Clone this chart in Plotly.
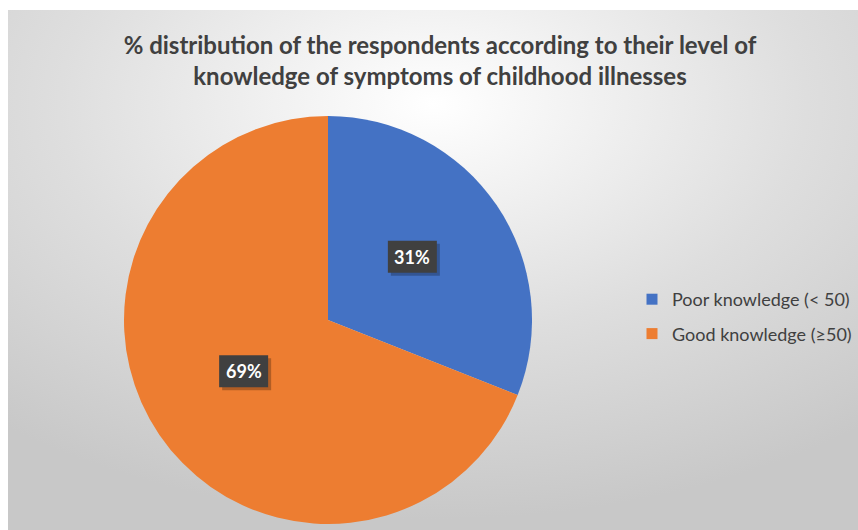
import base64
import math
import plotly.graph_objects as go

# Survey result: share of respondents by knowledge level
categories = ["Poor knowledge (< 50)", "Good knowledge (≥50)"]
percentages = [31, 69]
slice_colors = ["#4472C4", "#ED7D31"]
title_lines = [
    "% distribution of the respondents according to their level of",
    "knowledge of symptoms of childhood illnesses",
]

W, H = 858, 530
FONT = "Lato"

# pie geometry in pixels (margins are zero, so paper == page)
cx_px, cy_px, r_px = 328, 320, 204
dom_x = [(cx_px - r_px) / W, (cx_px + r_px) / W]
dom_y = [1 - (cy_px + r_px) / H, 1 - (cy_px - r_px) / H]

# soft radial background panel
svg = f"""<svg xmlns='http://www.w3.org/2000/svg' width='850' height='520' preserveAspectRatio='none' viewBox='0 0 850 520'>
<defs><radialGradient id='g' cx='0.5' cy='0.18' r='0.8' fx='0.5' fy='0.18'>
<stop offset='0' stop-color='#ffffff'/><stop offset='0.55' stop-color='#dedede'/><stop offset='1' stop-color='#c8c8c8'/>
</radialGradient></defs>
<rect x='0' y='0' width='850' height='520' fill='url(#g)'/></svg>"""
bg_uri = "data:image/svg+xml;base64," + base64.b64encode(svg.encode()).decode()

fig = go.Figure()
fig.add_trace(
    go.Pie(
        labels=categories,
        values=percentages,
        marker=dict(colors=slice_colors, line=dict(width=0)),
        sort=False,
        direction="clockwise",
        rotation=0,
        textinfo="none",
        hoverinfo="label+percent",
        domain=dict(x=dom_x, y=dom_y),
        showlegend=False,
    )
)

# legend entries, one group each so the rows get extra spacing
for name, color in zip(categories, slice_colors):
    fig.add_trace(
        go.Scatter(
            x=[None], y=[None], mode="markers", name=name, legendgroup=name,
            marker=dict(symbol="square", size=11, color=color),
            hoverinfo="skip",
        )
    )

# value labels: dark boxes placed halfway out along each slice's middle angle
total = sum(percentages)
start = 0.0
box_w, box_h = 49, 32
for pct in percentages:
    mid = (start + pct / 2) / total * 2 * math.pi
    start += pct
    px = cx_px + 0.5 * r_px * math.sin(mid)
    py = cy_px - 0.5 * r_px * math.cos(mid) - 6
    # drop shadow behind the box
    fig.add_shape(
        type="rect", xref="paper", yref="paper", layer="above",
        x0=(px - box_w / 2 + 3) / W, x1=(px + box_w / 2 + 3) / W,
        y0=1 - (py + box_h / 2 + 3) / H, y1=1 - (py - box_h / 2 + 3) / H,
        fillcolor="rgba(0,0,0,0.25)", line=dict(width=0),
    )
    fig.add_shape(
        type="rect", xref="paper", yref="paper", layer="above",
        x0=(px - box_w / 2) / W, x1=(px + box_w / 2) / W,
        y0=1 - (py + box_h / 2) / H, y1=1 - (py - box_h / 2) / H,
        fillcolor="#404040", line=dict(width=0),
    )
    fig.add_annotation(
        x=px / W, y=1 - py / H, xref="paper", yref="paper",
        xanchor="center", yanchor="middle",
        text=f"<b>{pct}%</b>", showarrow=False,
        font=dict(family=FONT, size=18, color="white"),
    )

fig.update_layout(
    width=W, height=H,
    margin=dict(l=0, r=0, t=0, b=0),
    paper_bgcolor="white",
    plot_bgcolor="rgba(0,0,0,0)",
    font=dict(family=FONT, color="#404040"),
    xaxis=dict(visible=False, domain=[0.99, 1.0]),
    yaxis=dict(visible=False, domain=[0.99, 1.0]),
    title=dict(
        text="<b>" + "<br>".join(title_lines) + "</b>",
        x=440 / W, xanchor="center",
        y=1 - 54 / H, yanchor="top",
        font=dict(family=FONT, size=24, color="#404040"),
    ),
    legend=dict(
        x=632 / W, y=1 - 281 / H, xanchor="left", yanchor="top",
        font=dict(family=FONT, size=18, color="#404040"),
        bgcolor="rgba(0,0,0,0)",
        tracegroupgap=8,
    ),
    images=[dict(
        source=bg_uri, xref="paper", yref="paper",
        x=8 / W, y=1 - 10 / H, sizex=850 / W, sizey=520 / H,
        xanchor="left", yanchor="top", sizing="stretch", layer="below",
    )],
)

fig.write_html("out.html")
